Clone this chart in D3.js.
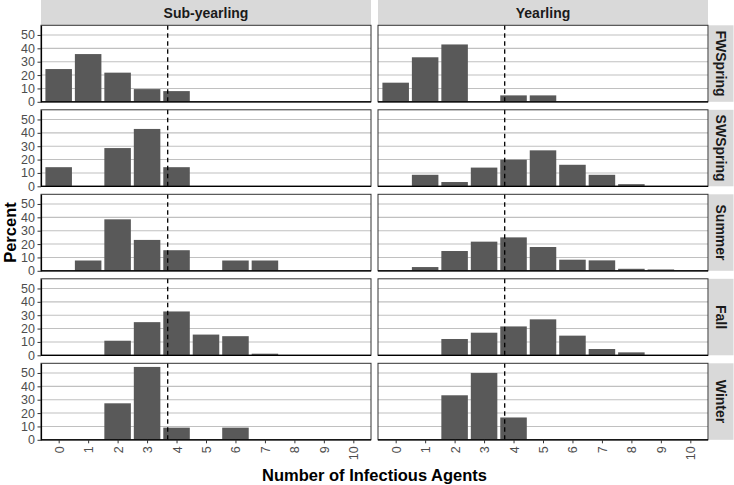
<!DOCTYPE html>
<html><head><meta charset="utf-8">
<script src="https://cdn.jsdelivr.net/npm/d3@7"></script>
<style>
html,body{margin:0;padding:0;background:#fff;}
svg{display:block;font-family:"Liberation Sans",Arial,sans-serif;}
</style></head>
<body><svg id="chart" width="734" height="485"></svg>
<script>
// ---- data ----
const counts = ["0","1","2","3","4","5","6","7","8","9","10"];
const ages = ["Sub-yearling","Yearling"];
const seasons = ["FWSpring","SWSpring","Summer","Fall","Winter"];
const yTicks = [0,10,20,30,40,50];
const meanLine = 3.7;

const subFWSpring = [24.5,35.7,21.8,9.5,8.0,0,0,0,0,0,0];
const yrlFWSpring = [14.3,33.3,42.9,0,4.8,4.8,0,0,0,0,0];
const subSWSpring = [14.3,0,28.6,42.9,14.3,0,0,0,0,0,0];
const yrlSWSpring = [0,8.6,3.2,14.0,19.9,26.9,16.1,8.6,1.6,0,0];
const subSummer   = [0,7.7,38.5,23.1,15.4,0,7.7,7.7,0,0,0];
const yrlSummer   = [0,2.8,14.8,21.8,25.0,17.8,8.3,7.8,1.5,1.0,0];
const subFall     = [0,0,10.9,24.8,32.8,15.5,14.3,1.2,0,0,0];
const yrlFall     = [0,0,12.2,16.9,21.6,26.9,14.7,4.7,2.2,0,0];
const subWinter   = [0,0,27.3,54.5,9.1,0,9.1,0,0,0,0];
const yrlWinter   = [0,0,33.3,50.0,16.7,0,0,0,0,0,0];

const panelData = {
  "FWSpring": [subFWSpring, yrlFWSpring],
  "SWSpring": [subSWSpring, yrlSWSpring],
  "Summer":   [subSummer, yrlSummer],
  "Fall":     [subFall, yrlFall],
  "Winter":   [subWinter, yrlWinter]
};

// ---- layout ----
const svg = d3.select("#chart");
const colX = [41, 378];
const panelW = 330;
const rowTop0 = 25.3, panelH = 76.5, rowStep = 84.5;
const stripH = 25.3, rStripW = 25;

const yMax = 54.5 * 1.05;

ages.forEach((age, c) => {
  const x0 = colX[c];
  svg.append("rect").attr("x", x0).attr("y", 0).attr("width", panelW).attr("height", stripH)
    .attr("fill", "#d9d9d9");
  svg.append("text").attr("x", x0 + panelW/2).attr("y", stripH/2).attr("dy", "0.36em")
    .attr("text-anchor", "middle").attr("font-size", 14).attr("font-weight", "bold")
    .attr("fill", "#1a1a1a").text(age);
});

seasons.forEach((season, r) => {
  const top = rowTop0 + r*rowStep, bottom = top + panelH;
  const y = d3.scaleLinear().domain([0, yMax]).range([bottom, top]);
  svg.append("rect").attr("x", colX[1] + panelW + 0.5).attr("y", top).attr("width", rStripW).attr("height", panelH)
    .attr("fill", "#d9d9d9");
  svg.append("text")
    .attr("transform", `translate(${colX[1] + panelW + 0.5 + rStripW/2},${(top+bottom)/2}) rotate(90)`)
    .attr("dy", "0.36em").attr("text-anchor", "middle").attr("font-size", 14).attr("font-weight", "bold")
    .attr("fill", "#1a1a1a").text(season);

  ages.forEach((age, c) => {
    const x0 = colX[c];
    const x = d3.scaleLinear().domain([-0.6, 10.6]).range([x0, x0 + panelW]);
    const g = svg.append("g");
    g.append("rect").attr("x", x0).attr("y", top).attr("width", panelW).attr("height", panelH).attr("fill", "#fff");
    g.selectAll("line.grid").data(yTicks).join("line")
      .attr("x1", x0).attr("x2", x0 + panelW)
      .attr("y1", d => y(d)).attr("y2", d => y(d))
      .attr("stroke", "#c0c0c0").attr("stroke-width", 1.1);
    const vals = panelData[season][c];
    const bw = (x(0.45) - x(-0.45));
    g.selectAll("rect.bar").data(vals.map((v,i)=>({i, v})).filter(d => d.v > 0)).join("rect")
      .attr("class", "bar")
      .attr("x", d => x(d.i) - bw/2).attr("width", bw)
      .attr("y", d => y(d.v)).attr("height", d => y(0) - y(d.v))
      .attr("fill", "#595959");
    g.append("line").attr("x1", x(meanLine)).attr("x2", x(meanLine))
      .attr("y1", top).attr("y2", bottom)
      .attr("stroke", "#000").attr("stroke-width", 1.3).attr("stroke-dasharray", "4.5,3.5");
    g.append("rect").attr("x", x0).attr("y", top).attr("width", panelW).attr("height", panelH)
      .attr("fill", "none").attr("stroke", "#333").attr("stroke-width", 1);
    g.append("line").attr("x1", x0).attr("x2", x0 + panelW).attr("y1", bottom).attr("y2", bottom)
      .attr("stroke", "#000").attr("stroke-width", 1.2);

    if (c === 0) {
      const ax = svg.append("g").attr("transform", `translate(${x0},0)`)
        .call(d3.axisLeft(y).tickValues(yTicks).tickSize(3.5).tickSizeOuter(0).tickPadding(2.5));
      ax.select(".domain").attr("stroke", "#000").attr("stroke-width", 1.2);
      ax.selectAll(".tick line").attr("stroke", "#333");
      ax.selectAll(".tick text").attr("fill", "#4d4d4d").attr("font-size", 12.5)
        .attr("font-family", "Liberation Sans, Arial, sans-serif");
    }
    if (r === seasons.length - 1) {
      const ax = svg.append("g").attr("transform", `translate(0,${bottom})`)
        .call(d3.axisBottom(x).tickValues(d3.range(counts.length)).tickFormat(i => counts[i]).tickSize(3.5).tickSizeOuter(0).tickPadding(2.5));
      ax.select(".domain").remove();
      ax.selectAll(".tick line").attr("stroke", "#333");
      ax.selectAll(".tick text").attr("fill", "#4d4d4d").attr("font-size", 12.5)
        .attr("font-family", "Liberation Sans, Arial, sans-serif")
        .attr("text-anchor", "end").attr("transform", "translate(0,6.5) rotate(-90)")
        .attr("x", 0).attr("y", 0).attr("dy", "0.36em");
    }
  });
});

svg.append("text").attr("x", (colX[0] + colX[1] + panelW)/2).attr("y", 481)
  .attr("text-anchor", "middle").attr("font-size", 16.5).attr("font-weight", "bold")
  .attr("fill", "#000").text("Number of Infectious Agents");
svg.append("text").attr("transform", `translate(16,${rowTop0 + (4*rowStep + panelH)/2}) rotate(-90)`)
  .attr("text-anchor", "middle").attr("font-size", 16.5).attr("font-weight", "bold")
  .attr("fill", "#000").text("Percent");
</script></body></html>
